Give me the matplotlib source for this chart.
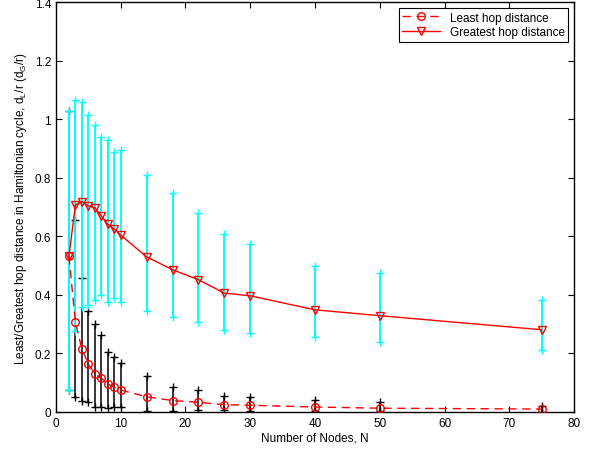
import matplotlib.pyplot as plt
import numpy as np

plt.rcParams['font.family'] = ['Liberation Sans', 'DejaVu Sans']
plt.rcParams['mathtext.default'] = 'regular'
plt.rcParams['font.size'] = 8.5

# number of nodes
nodes = [2, 3, 4, 5, 6, 7, 8, 9, 10, 14, 18, 22, 26, 30, 40, 50, 75]

# least hop distance and its min/max range
least = [0.532, 0.306, 0.215, 0.164, 0.130, 0.115, 0.096, 0.084, 0.075,
         0.052, 0.039, 0.033, 0.025, 0.023, 0.017, 0.013, 0.010]
least_hi = [1.029, 0.657, 0.457, 0.346, 0.300, 0.263, 0.204, 0.187, 0.166,
            0.124, 0.084, 0.075, 0.056, 0.052, 0.042, 0.033, 0.022]
least_lo = [0.076, 0.050, 0.039, 0.035, 0.016, 0.018, 0.013, 0.016, 0.018,
            0.004, 0.002, 0.007, 0.006, 0.005, 0.003, 0.002, 0.001]

# greatest hop distance and its min/max range
greatest = [0.532, 0.707, 0.719, 0.704, 0.698, 0.670, 0.641, 0.625, 0.604,
            0.530, 0.486, 0.452, 0.406, 0.397, 0.349, 0.329, 0.281]
greatest_hi = [1.029, 1.066, 1.059, 1.014, 0.981, 0.940, 0.928, 0.889, 0.894,
               0.809, 0.748, 0.679, 0.607, 0.575, 0.498, 0.475, 0.382]
greatest_lo = [0.076, 0.275, 0.357, 0.366, 0.382, 0.399, 0.377, 0.389, 0.377,
               0.344, 0.324, 0.308, 0.280, 0.269, 0.257, 0.240, 0.212]

fig = plt.figure(figsize=(6, 4.52), dpi=100)
ax = fig.add_axes([0.0933, 0.0863, 0.8634, 0.9067])

# black range bars for least hop distance
ax.vlines(nodes, least_lo, least_hi, colors='black', lw=1.1, zorder=2)
ax.plot(nodes, least_hi, '+', color='black', ms=5.5, mew=1.0, zorder=2)
ax.plot(nodes, least_lo, '+', color='black', ms=5.5, mew=1.0, zorder=2)

# cyan range bars for greatest hop distance
ax.vlines(nodes, greatest_lo, greatest_hi, colors='cyan', lw=1.4, zorder=3)
ax.plot(nodes, greatest_hi, '+', color='cyan', ms=5.5, mew=1.0, zorder=3)
ax.plot(nodes, greatest_lo, '+', color='cyan', ms=5.5, mew=1.0, zorder=3)

ax.plot(nodes, least, '--o', color='red', mfc='none', ms=5.5, lw=1.0,
        dashes=(6, 4), label='Least hop distance', zorder=4)
ax.plot(nodes, greatest, '-v', color='red', mfc='none', ms=6, lw=1.0,
        label='Greatest hop distance', zorder=4)

ax.set_xlim(0, 80)
ax.set_ylim(0, 1.4)
ax.set_xticks(np.arange(0, 81, 10))
ax.set_yticks(np.arange(0, 1.41, 0.2))
ax.set_yticklabels(['0', '0.2', '0.4', '0.6', '0.8', '1', '1.2', '1.4'])
ax.tick_params(direction='in', top=True, right=True, length=4, width=0.8)
for s in ax.spines.values():
    s.set_linewidth(1.0)

ax.set_xlabel('Number of Nodes, N', labelpad=2)
ax.set_ylabel('Least/Greatest hop distance in Hamiltonian cycle, $d_L$/r ($d_G$/r)',
              labelpad=4)

leg = ax.legend(loc='upper right', fancybox=False, edgecolor='black',
                framealpha=1, borderpad=0.3, handlelength=3.2,
                labelspacing=0.2, borderaxespad=0.5)
leg.get_frame().set_linewidth(0.8)

plt.savefig('out.png', dpi=100)
